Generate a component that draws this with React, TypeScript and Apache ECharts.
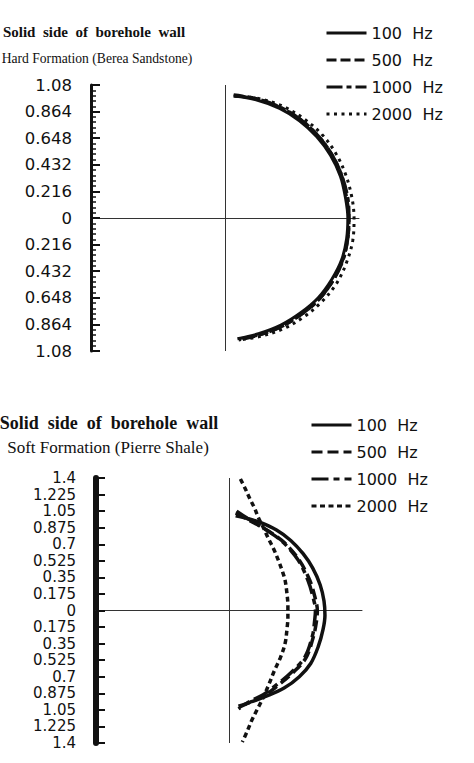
import React, { useEffect, useRef } from "react";
import * as echarts from "echarts";

// ---------- data ----------
const freqNames = ["100 Hz", "500 Hz", "1000 Hz", "2000 Hz"];

// Hard formation (Berea Sandstone) – normalized displacement, [x, y]
const hard100 = [
  [0.07, 0.99], [0.25, 0.96], [0.44, 0.89], [0.6, 0.79], [0.74, 0.66], [0.85, 0.51],
  [0.93, 0.34], [0.97, 0.17], [0.99, 0], [0.98, -0.17], [0.94, -0.34], [0.86, -0.5],
  [0.75, -0.65], [0.61, -0.77], [0.45, -0.87], [0.27, -0.94], [0.1, -0.98],
];
const hard500 = [
  [0.07, 1.0], [0.25, 0.97], [0.44, 0.9], [0.61, 0.8], [0.75, 0.67], [0.86, 0.52],
  [0.94, 0.35], [0.98, 0.17], [1.0, 0], [0.99, -0.17], [0.95, -0.34], [0.87, -0.51],
  [0.76, -0.66], [0.62, -0.78], [0.46, -0.88], [0.28, -0.95], [0.11, -0.99],
];
const hard1000 = [
  [0.07, 0.99], [0.25, 0.97], [0.45, 0.9], [0.61, 0.8], [0.75, 0.67], [0.86, 0.52],
  [0.94, 0.35], [0.99, 0.17], [1.0, 0], [0.99, -0.17], [0.95, -0.35], [0.87, -0.51],
  [0.76, -0.66], [0.62, -0.78], [0.46, -0.88], [0.28, -0.95], [0.11, -0.98],
];
const hard2000 = [
  [0.08, 0.99], [0.27, 0.97], [0.46, 0.91], [0.63, 0.81], [0.78, 0.68], [0.89, 0.53],
  [0.97, 0.36], [1.02, 0.18], [1.04, 0], [1.03, -0.18], [0.98, -0.36], [0.9, -0.53],
  [0.78, -0.68], [0.64, -0.8], [0.47, -0.9], [0.29, -0.96], [0.12, -0.99],
];

// Soft formation (Pierre Shale)
const soft100 = [
  [0.07, 1.0], [0.2, 0.97], [0.33, 0.93], [0.5, 0.85], [0.65, 0.74], [0.78, 0.6],
  [0.88, 0.45], [0.96, 0.27], [1.0, 0.1], [1.01, -0.05], [0.99, -0.2], [0.94, -0.38],
  [0.86, -0.56], [0.74, -0.7], [0.58, -0.82], [0.38, -0.91], [0.22, -0.97], [0.1, -1.01],
];
const soft500 = [
  [0.07, 1.03], [0.2, 0.96], [0.31, 0.9], [0.43, 0.83], [0.59, 0.71], [0.74, 0.53],
  [0.85, 0.32], [0.91, 0.12], [0.93, 0], [0.92, -0.12], [0.89, -0.27], [0.81, -0.5],
  [0.67, -0.66], [0.53, -0.78], [0.37, -0.9], [0.22, -0.97], [0.09, -1.03],
];
const soft1000 = [
  [0.08, 1.05], [0.2, 0.97], [0.3, 0.91], [0.41, 0.84], [0.57, 0.72], [0.73, 0.53],
  [0.83, 0.32], [0.89, 0.12], [0.91, 0], [0.9, -0.12], [0.88, -0.26], [0.8, -0.49],
  [0.66, -0.65], [0.52, -0.77], [0.36, -0.89], [0.22, -0.96], [0.1, -1.04],
];
const soft2000 = [
  [0.12, 1.39], [0.17, 1.29], [0.22, 1.18], [0.27, 1.08], [0.31, 0.98], [0.36, 0.88],
  [0.41, 0.77], [0.47, 0.65], [0.52, 0.53], [0.56, 0.42], [0.59, 0.32], [0.61, 0.18],
  [0.62, 0.05], [0.62, -0.07], [0.61, -0.2], [0.59, -0.35], [0.54, -0.5], [0.48, -0.63],
  [0.42, -0.78], [0.36, -0.92], [0.3, -1.04], [0.24, -1.16], [0.19, -1.28], [0.14, -1.39],
];

const hardTicks = { min: -1.08, max: 1.08, interval: 0.216 };
const softTicks = { min: -1.4, max: 1.4, interval: 0.175 };

const titleMain = "Solid  side  of  borehole  wall";
const titleHard = "Hard Formation (Berea Sandstone)";
const titleSoft = "Soft Formation (Pierre Shale)";

// ---------- styling ----------
const INK = "#111";
const NUM_FONT = '"DejaVu Sans", Verdana, sans-serif';
const SERIF = '"Liberation Serif", "Times New Roman", serif';

const hardDash: any[] = ["solid", [10, 4], [16, 4, 5, 4], [3, 4.5]];
const softDash: any[] = ["solid", [11, 5], [17, 5, 6, 5], [5, 3.5]];

const absLabel = (v: number) => String(parseFloat(Math.abs(v).toFixed(3)));

const HIDDEN = "rgba(0,0,0,0)";

export default function App() {
  const ref = useRef<HTMLDivElement>(null);

  useEffect(() => {
    if (!ref.current) return;
    const chart = echarts.init(ref.current, undefined, { renderer: "svg" });

    const mkSeries = (
      name: string,
      data: number[][],
      idx: number,
      type: any,
      width: number,
      withZeroLine: boolean
    ) => ({
      type: "line",
      name,
      data,
      xAxisIndex: idx,
      yAxisIndex: idx,
      showSymbol: false,
      symbol: "none",
      smooth: 0.35,
      lineStyle: { color: INK, width, type, cap: "butt" },
      itemStyle: { color: INK },
      z: 3,
      markLine: withZeroLine
        ? {
            silent: true,
            symbol: ["none", "none"],
            label: { show: false },
            lineStyle: { color: "#333", width: 1, type: "solid" },
            data: [{ xAxis: 0 }],
          }
        : undefined,
    });

    const hardData = [hard100, hard500, hard1000, hard2000];
    const softData = [soft100, soft500, soft1000, soft2000];

    const series: any[] = [];
    freqNames.forEach((n, i) => series.push(mkSeries(n, hardData[i], 0, hardDash[i], 3, i === 0)));
    freqNames.forEach((n, i) => series.push(mkSeries(n, softData[i], 1, softDash[i], 3.5, i === 0)));

    const xAxisBase = (t: any, gi: number) => ({
      type: "value",
      gridIndex: gi,
      min: t.min,
      max: t.max,
      interval: t.interval,
      axisLine: { show: true, onZero: true, lineStyle: { color: "#333", width: 1 } },
      axisTick: { show: false },
      axisLabel: { show: false },
      splitLine: { show: false },
    });

    const legendBase = (left: number, top: number, soft: boolean) => ({
      orient: "vertical",
      left,
      top,
      padding: 0,
      itemWidth: 40,
      itemHeight: 14,
      itemGap: 11,
      formatter: (n: string) => n.replace(" ", "  "),
      textStyle: { fontFamily: NUM_FONT, fontSize: 16, color: INK, lineHeight: 16 },
      itemStyle: { color: HIDDEN, borderColor: HIDDEN, borderWidth: 0, opacity: 0 },
      data: freqNames.map((n, i) => ({
        name: n,
        itemStyle: { color: HIDDEN, borderColor: HIDDEN, borderWidth: 0, opacity: 0 },
        lineStyle: { type: soft ? softDash[i] : hardDash[i], width: 3, color: INK },
      })),
      selectedMode: false,
    });

    chart.setOption({
      animation: false,
      backgroundColor: "#fff",
      grid: [
        { left: 91, top: 85, width: 268, height: 266 },
        { left: 96, top: 478, width: 266, height: 265 },
      ],
      xAxis: [xAxisBase(hardTicks, 0), xAxisBase(softTicks, 1)],
      yAxis: [
        {
          type: "value",
          gridIndex: 0,
          min: hardTicks.min,
          max: hardTicks.max,
          interval: hardTicks.interval,
          axisLine: { show: true, onZero: false, lineStyle: { color: INK, width: 3 } },
          axisTick: { show: true, inside: true, length: 9, lineStyle: { color: INK, width: 2 } },
          minorTick: { show: true, splitNumber: 5, length: 5, lineStyle: { color: INK, width: 1.5 } },
          axisLabel: {
            show: true,
            margin: 19,
            showMinLabel: true,
            showMaxLabel: true,
            formatter: absLabel,
            fontFamily: NUM_FONT,
            fontSize: 16.5,
            color: INK,
          },
          splitLine: { show: false },
          minorSplitLine: { show: false },
        },
        {
          type: "value",
          gridIndex: 1,
          min: softTicks.min,
          max: softTicks.max,
          interval: softTicks.interval,
          axisLine: { show: true, onZero: false, lineStyle: { color: INK, width: 6 } },
          axisTick: { show: true, inside: true, length: 9, lineStyle: { color: INK, width: 2 } },
          axisLabel: {
            show: true,
            margin: 20,
            showMinLabel: true,
            showMaxLabel: true,
            hideOverlap: false,
            formatter: absLabel,
            fontFamily: NUM_FONT,
            fontSize: 15,
            lineHeight: 15,
            color: INK,
          },
          splitLine: { show: false },
        },
      ],
      legend: [legendBase(325, 25, false), legendBase(310, 417, true)],
      graphic: [
        {
          type: "text",
          x: 94,
          y: 32,
          style: {
            text: titleMain,
            font: `bold 15px ${SERIF}`,
            fill: INK,
            align: "center",
            verticalAlign: "middle",
            textAlign: "center",
            textVerticalAlign: "middle",
          },
        },
        {
          type: "text",
          x: 97,
          y: 58,
          style: {
            text: titleHard,
            font: `13.6px ${SERIF}`,
            fill: INK,
            align: "center",
            verticalAlign: "middle",
            textAlign: "center",
            textVerticalAlign: "middle",
          },
        },
        {
          type: "text",
          x: 109,
          y: 423,
          style: {
            text: titleMain,
            font: `bold 18px ${SERIF}`,
            fill: INK,
            align: "center",
            verticalAlign: "middle",
            textAlign: "center",
            textVerticalAlign: "middle",
          },
        },
        {
          type: "text",
          x: 108,
          y: 447,
          style: {
            text: titleSoft,
            font: `17px ${SERIF}`,
            fill: INK,
            align: "center",
            verticalAlign: "middle",
            textAlign: "center",
            textVerticalAlign: "middle",
          },
        },
      ],
      series,
    });

    return () => chart.dispose();
  }, []);

  return (
    <div
      ref={ref}
      style={{ position: "fixed", left: 0, top: 0, width: 474, height: 763, background: "#fff" }}
    />
  );
}
